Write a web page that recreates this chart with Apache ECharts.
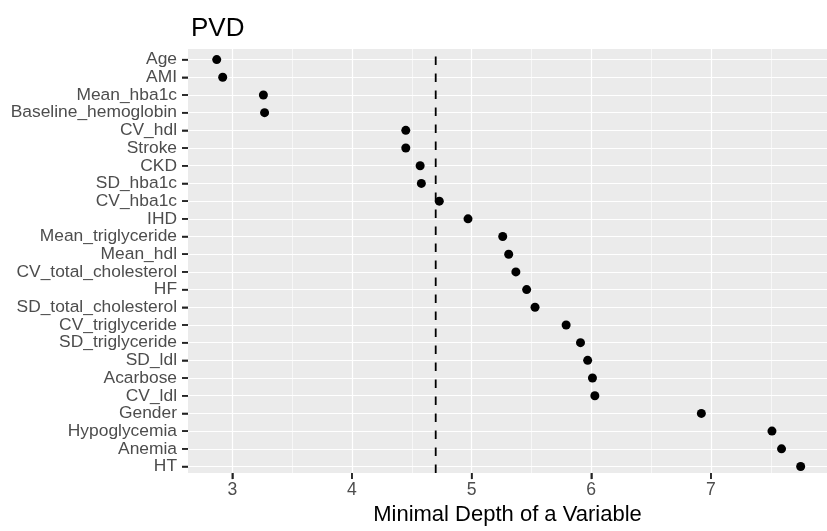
<!DOCTYPE html>
<html>
<head>
<meta charset="utf-8">
<script src="https://cdn.jsdelivr.net/npm/echarts@6/dist/echarts.min.js"></script>
<style>
html,body{margin:0;padding:0;background:#fff;}
#chart{width:827px;height:531px;}
</style>
</head>
<body>
<div id="chart"></div>
<script>
var categories = ["Age","AMI","Mean_hba1c","Baseline_hemoglobin","CV_hdl","Stroke","CKD","SD_hba1c","CV_hba1c","IHD","Mean_triglyceride","Mean_hdl","CV_total_cholesterol","HF","SD_total_cholesterol","CV_triglyceride","SD_triglyceride","SD_ldl","Acarbose","CV_ldl","Gender","Hypoglycemia","Anemia","HT"];
var minimalDepth = [2.87,2.92,3.26,3.27,4.45,4.45,4.57,4.58,4.73,4.97,5.26,5.31,5.37,5.46,5.53,5.79,5.91,5.97,6.01,6.03,6.92,7.51,7.59,7.75];
var thresholdValue = 4.70;
var majorTicks = [3,4,5,6,7];
var minorTicks = [3.5,4.5,5.5,6.5,7.5];
var xMin = 2.63, xMax = 7.97;

var FONT = "'Liberation Sans', Arial, Helvetica, sans-serif";
var TICK_LEN = 6, TICK_W = 1.5, TICK_COLOR = '#222222';
var chart = echarts.init(document.getElementById('chart'), null, {renderer:'canvas'});
var option = {
  animation: false,
  title: {
    text: 'PVD', left: 186, top: 11,
    textStyle: {fontFamily: FONT, fontSize: 26, fontWeight: 'normal', color: '#000'}
  },
  grid: [
    {left: 188, right: -3, top: 49, bottom: 54, show: true, backgroundColor: '#EBEBEB', borderWidth: 0, containLabel: false},
    {left: 188, right: -3, top: 59.6, bottom: 64.5, show: false, containLabel: false}
  ],
  xAxis: [
    {
      type: 'value', gridIndex: 0, min: xMin, max: xMax, position: 'bottom',
      name: 'Minimal Depth of a Variable', nameLocation: 'middle', nameGap: 29,
      nameTextStyle: {fontFamily: FONT, fontSize: 22, color: '#000'},
      axisLine: {show: false},
      axisTick: {show: true, inside: false, length: TICK_LEN, customValues: majorTicks, lineStyle: {color: TICK_COLOR, width: TICK_W}},
      axisLabel: {show: true, customValues: majorTicks, margin: 8, fontFamily: FONT, fontSize: 17.6, color: '#4D4D4D'},
      splitLine: {show: true, lineStyle: {color: '#FFFFFF', width: 1.2}}
    },
    {
      type: 'value', gridIndex: 0, min: xMin, max: xMax, position: 'top',
      axisLine: {show: false},
      axisTick: {show: false, customValues: minorTicks},
      axisLabel: {show: false},
      splitLine: {show: true, lineStyle: {color: '#FFFFFF', width: 0.6}}
    },
    {
      type: 'value', gridIndex: 1, min: xMin, max: xMax, show: false,
      splitLine: {show: false}
    }
  ],
  yAxis: [
    {type: 'value', gridIndex: 0, min: 0, max: 1, show: false, splitLine: {show: false}},
    {
      type: 'value', gridIndex: 1, min: 0, max: 23, interval: 1, inverse: true,
      axisLine: {show: false},
      axisTick: {show: true, inside: false, length: TICK_LEN, lineStyle: {color: TICK_COLOR, width: TICK_W}},
      axisLabel: {
        margin: 11, fontFamily: FONT, fontSize: 17.4, color: '#4D4D4D',
        formatter: function (v) { return categories[Math.round(v)] || ''; }
      },
      splitLine: {show: true, lineStyle: {color: '#FFFFFF', width: 1.2}}
    }
  ],
  series: [
    {
      type: 'line', xAxisIndex: 0, yAxisIndex: 0, z: 3, silent: true,
      symbol: 'none',
      data: [[thresholdValue, 0], [thresholdValue, 1]],
      lineStyle: {color: '#000', width: 1.8, type: [8.5, 8.5]}
    },
    {
      type: 'scatter', xAxisIndex: 2, yAxisIndex: 1, z: 4, silent: true,
      symbol: 'circle', symbolSize: 9,
      itemStyle: {color: '#000', opacity: 1},
      data: minimalDepth.map(function (v, i) { return [v, i]; })
    },
    {
      type: 'scatter', xAxisIndex: 0, yAxisIndex: 0, z: 5, silent: true, clip: false,
      symbol: 'rect', symbolSize: [TICK_W, TICK_LEN], symbolOffset: [0, TICK_LEN / 2],
      itemStyle: {color: TICK_COLOR, opacity: 1},
      data: majorTicks.map(function (v) { return [v, 0]; })
    },
    {
      type: 'scatter', xAxisIndex: 2, yAxisIndex: 1, z: 5, silent: true, clip: false,
      symbol: 'rect', symbolSize: [TICK_LEN, TICK_W], symbolOffset: [-TICK_LEN / 2, 0],
      itemStyle: {color: TICK_COLOR, opacity: 1},
      data: categories.map(function (c, i) { return [xMin, i]; })
    }
  ]
};
chart.setOption(option);
</script>
</body>
</html>
